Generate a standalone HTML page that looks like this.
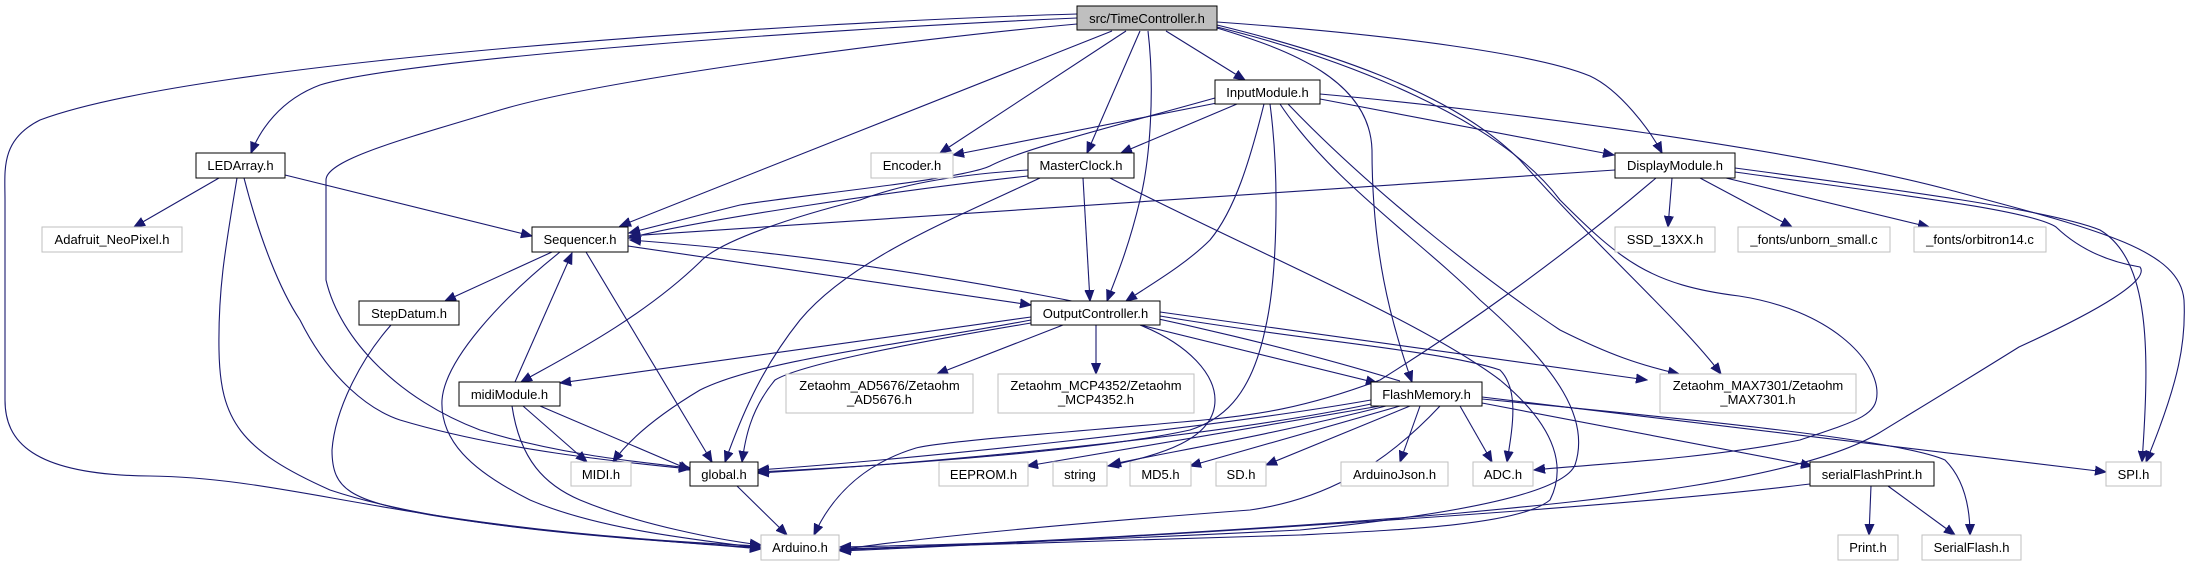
<!DOCTYPE html>
<html><head><meta charset="utf-8"><style>
html,body{margin:0;padding:0;background:#fff;}
svg{display:block;}
text{font-family:"Liberation Sans",Arial,sans-serif;font-size:13px;fill:#000;}
.e{fill:none;stroke:#191970;stroke-width:1.1;marker-end:url(#a);}
.n{fill:#fff;stroke:#000;stroke-width:1;}
.g{fill:#fff;stroke:#bfbfbf;stroke-width:1;}
</style></head><body>
<svg width="2188" height="563" viewBox="0 0 2188 563" xmlns="http://www.w3.org/2000/svg">
<defs><marker id="a" markerUnits="userSpaceOnUse" markerWidth="12" markerHeight="10" refX="11" refY="5" orient="auto"><path d="M0,0.5 L11,5 L0,9.5 Z" fill="#191970" stroke="#191970"/></marker></defs>
<g>
<path class="e" d="M1077,14 C800,22 200,60 40,120 C0,140 5,170 5,200 L5,400 C5,440 30,475 150,476 C300,478 400,530 761,546"/>
<path class="e" d="M1077,18 C800,30 400,60 320,85 C280,100 260,130 251,153"/>
<path class="e" d="M1077,24 C900,40 600,80 500,110 C400,140 326,160 326,180 L326,280 C340,340 400,400 480,430 C560,455 640,462 690,468"/>
<path class="e" d="M1112,31 L620,226"/>
<path class="e" d="M1126,31 L940,153"/>
<path class="e" d="M1140,31 L1087,153"/>
<path class="e" d="M1148,31 C1155,90 1150,160 1140,200 C1128,250 1115,280 1107,301"/>
<path class="e" d="M1166,31 L1245,80"/>
<path class="e" d="M1217,28 C1290,50 1370,80 1372,150 C1372,250 1390,320 1412,382"/>
<path class="e" d="M1217,25 C1320,50 1450,90 1520,160 C1600,250 1680,320 1721,374"/>
<path class="e" d="M1217,27 C1350,60 1500,120 1560,200 C1620,260 1650,285 1739,296 C1830,310 1877,360 1877,393 C1877,415 1860,420 1800,440 C1700,460 1580,465 1534,470"/>
<path class="e" d="M1217,22 C1400,35 1540,55 1590,76 C1620,90 1650,130 1662,153"/>
<path class="e" d="M1222,102 L953,155"/>
<path class="e" d="M1215,98 C1100,130 1020,150 990,166 C960,180 800,195 740,205 C700,215 660,225 629,233"/>
<path class="e" d="M1237,104 L1121,153"/>
<path class="e" d="M1264,104 C1250,160 1235,210 1210,240 C1185,265 1150,285 1126,301"/>
<path class="e" d="M1270,104 C1280,180 1277,280 1265,330 C1250,400 1220,420 1190,430 C1100,450 900,465 758,472"/>
<path class="e" d="M1280,104 C1330,180 1420,240 1480,300 C1560,370 1590,420 1575,465 C1560,500 1400,520 1300,530 C1100,540 950,545 840,547"/>
<path class="e" d="M1288,104 C1380,200 1500,290 1560,330 C1610,355 1640,365 1679,374"/>
<path class="e" d="M1320,99 L1614,155"/>
<path class="e" d="M1320,94 C1500,110 1800,150 1950,190 C2100,230 2180,250 2184,300 C2186,340 2180,380 2146,462"/>
<path class="e" d="M1028,176 C900,190 700,220 629,238"/>
<path class="e" d="M1028,170 C950,175 900,185 860,200 C800,215 720,240 700,262 C640,320 560,360 521,382"/>
<path class="e" d="M1040,178 C950,220 850,260 800,320 C760,370 740,420 725,462"/>
<path class="e" d="M1083,178 L1090,301"/>
<path class="e" d="M1110,178 C1250,250 1420,320 1500,380 C1560,430 1565,470 1550,500 C1520,525 1400,530 1300,535 C1100,542 950,546 840,549"/>
<path class="e" d="M552,252 L445,301"/>
<path class="e" d="M628,246 L1031,305"/>
<path class="e" d="M586,252 L712,462"/>
<path class="e" d="M560,252 C500,300 445,360 442,400 C440,440 470,470 530,500 C600,530 700,540 761,548"/>
<path class="e" d="M1400,381 C1200,320 900,260 630,240"/>
<path class="e" d="M515,382 L572,253"/>
<path class="e" d="M1615,170 L629,236"/>
<path class="e" d="M219,178 L134,227"/>
<path class="e" d="M285,175 L532,236"/>
<path class="e" d="M244,178 C260,240 280,290 300,320 C330,380 370,410 400,420 C500,450 620,462 690,469"/>
<path class="e" d="M237,178 C225,250 218,290 219,350 C220,420 240,450 330,490 C450,530 650,540 761,548"/>
<path class="e" d="M391,325 C360,360 335,410 332,450 C332,490 350,500 430,515 C550,535 700,543 761,549"/>
<path class="e" d="M523,406 L587,462"/>
<path class="e" d="M540,406 L690,470"/>
<path class="e" d="M512,406 C520,460 545,485 580,500 C640,525 720,540 761,545"/>
<path class="e" d="M1031,317 L560,383"/>
<path class="e" d="M1031,320 C900,345 760,360 700,390 C650,420 625,445 613,462"/>
<path class="e" d="M1031,323 C900,345 800,365 775,380 C750,410 745,440 742,462"/>
<path class="e" d="M1063,325 L937,374"/>
<path class="e" d="M1096,325 L1096,374"/>
<path class="e" d="M1140,325 L1377,383"/>
<path class="e" d="M1160,312 L1647,380"/>
<path class="e" d="M1160,316 C1300,340 1440,350 1500,370 C1520,390 1512,430 1507,462"/>
<path class="e" d="M1140,325 C1190,345 1215,375 1215,400 C1215,440 1160,455 1108,466"/>
<path class="e" d="M1371,400 C1200,430 900,460 758,470"/>
<path class="e" d="M1371,404 C1200,440 900,465 758,473"/>
<path class="e" d="M1380,406 L1027,466"/>
<path class="e" d="M1386,406 C1250,440 1150,455 1110,465"/>
<path class="e" d="M1400,406 L1190,466"/>
<path class="e" d="M1410,406 L1266,465"/>
<path class="e" d="M1420,406 L1400,462"/>
<path class="e" d="M1460,406 L1492,462"/>
<path class="e" d="M1482,403 L1812,466"/>
<path class="e" d="M1482,397 L2106,472"/>
<path class="e" d="M1482,399 C1700,420 1900,440 1945,460 C1965,480 1970,510 1970,535"/>
<path class="e" d="M1440,406 C1380,470 1320,500 1250,510 C1050,525 900,540 840,550"/>
<path class="e" d="M1672,178 L1668,227"/>
<path class="e" d="M1700,178 L1792,227"/>
<path class="e" d="M1726,178 L1929,227"/>
<path class="e" d="M1656,178 C1560,260 1460,330 1380,380 C1300,410 1250,415 1214,419 C1100,430 950,440 916,448 C860,465 830,500 814,535"/>
<path class="e" d="M1735,168 C1900,190 2050,210 2100,230 C2150,260 2150,350 2142,462"/>
<path class="e" d="M1735,172 C1900,195 2030,210 2056,227 C2080,250 2110,262 2140,267 C2150,280 2100,310 2019,347 C1950,390 1900,420 1879,433 C1800,480 1600,500 1460,513 C1200,535 950,545 840,550"/>
<path class="e" d="M1871,486 L1869,535"/>
<path class="e" d="M1888,486 L1955,535"/>
<path class="e" d="M1810,484 C1600,510 1100,540 840,551"/>
<path class="e" d="M737,486 L787,535"/>
</g>
<g>
<rect x="1077" y="6" width="140" height="24" fill="#bfbfbf" stroke="#000"/><text x="1147" y="23" text-anchor="middle">src/TimeController.h</text>
<rect class="n" x="196" y="153" width="89" height="25"/><text x="240.5" y="170" text-anchor="middle">LEDArray.h</text>
<rect class="g" x="42" y="227" width="140" height="25"/><text x="112" y="244" text-anchor="middle">Adafruit_NeoPixel.h</text>
<rect class="n" x="532" y="227" width="96" height="25"/><text x="580" y="244" text-anchor="middle">Sequencer.h</text>
<rect class="n" x="359" y="301" width="100" height="24"/><text x="409" y="318" text-anchor="middle">StepDatum.h</text>
<rect class="n" x="459" y="382" width="101" height="24"/><text x="509.5" y="399" text-anchor="middle">midiModule.h</text>
<rect class="g" x="571" y="462" width="60" height="24"/><text x="601" y="479" text-anchor="middle">MIDI.h</text>
<rect class="n" x="690" y="462" width="68" height="24"/><text x="724" y="479" text-anchor="middle">global.h</text>
<rect class="n" x="1215" y="80" width="105" height="24"/><text x="1267.5" y="97" text-anchor="middle">InputModule.h</text>
<rect class="g" x="871" y="153" width="82" height="25"/><text x="912" y="170" text-anchor="middle">Encoder.h</text>
<rect class="n" x="1028" y="153" width="106" height="25"/><text x="1081" y="170" text-anchor="middle">MasterClock.h</text>
<rect class="n" x="1031" y="301" width="129" height="24"/><text x="1095.5" y="318" text-anchor="middle">OutputController.h</text>
<rect class="g" x="786" y="374" width="187" height="39"/><text x="879.5" y="390" text-anchor="middle">Zetaohm_AD5676/Zetaohm</text><text x="879.5" y="404" text-anchor="middle">_AD5676.h</text>
<rect class="g" x="998" y="374" width="196" height="39"/><text x="1096" y="390" text-anchor="middle">Zetaohm_MCP4352/Zetaohm</text><text x="1096" y="404" text-anchor="middle">_MCP4352.h</text>
<rect class="n" x="1371" y="382" width="111" height="24"/><text x="1426.5" y="399" text-anchor="middle">FlashMemory.h</text>
<rect class="g" x="939" y="462" width="89" height="24"/><text x="983.5" y="479" text-anchor="middle">EEPROM.h</text>
<rect class="g" x="1053" y="462" width="54" height="24"/><text x="1080" y="479" text-anchor="middle">string</text>
<rect class="g" x="1130" y="462" width="61" height="24"/><text x="1160.5" y="479" text-anchor="middle">MD5.h</text>
<rect class="g" x="1216" y="462" width="50" height="24"/><text x="1241" y="479" text-anchor="middle">SD.h</text>
<rect class="g" x="1341" y="462" width="107" height="24"/><text x="1394.5" y="479" text-anchor="middle">ArduinoJson.h</text>
<rect class="g" x="761" y="535" width="78" height="25"/><text x="800" y="552" text-anchor="middle">Arduino.h</text>
<rect class="n" x="1615" y="153" width="120" height="25"/><text x="1675" y="170" text-anchor="middle">DisplayModule.h</text>
<rect class="g" x="1615" y="227" width="100" height="25"/><text x="1665" y="244" text-anchor="middle">SSD_13XX.h</text>
<rect class="g" x="1738" y="227" width="152" height="25"/><text x="1814" y="244" text-anchor="middle">_fonts/unborn_small.c</text>
<rect class="g" x="1914" y="227" width="132" height="25"/><text x="1980" y="244" text-anchor="middle">_fonts/orbitron14.c</text>
<rect class="g" x="1660" y="374" width="196" height="39"/><text x="1758" y="390" text-anchor="middle">Zetaohm_MAX7301/Zetaohm</text><text x="1758" y="404" text-anchor="middle">_MAX7301.h</text>
<rect class="g" x="1473" y="462" width="60" height="24"/><text x="1503" y="479" text-anchor="middle">ADC.h</text>
<rect class="n" x="1810" y="462" width="124" height="24"/><text x="1872" y="479" text-anchor="middle">serialFlashPrint.h</text>
<rect class="g" x="2106" y="462" width="55" height="24"/><text x="2133.5" y="479" text-anchor="middle">SPI.h</text>
<rect class="g" x="1838" y="535" width="60" height="25"/><text x="1868" y="552" text-anchor="middle">Print.h</text>
<rect class="g" x="1922" y="535" width="99" height="25"/><text x="1971.5" y="552" text-anchor="middle">SerialFlash.h</text>
</g>
</svg>
</body></html>
